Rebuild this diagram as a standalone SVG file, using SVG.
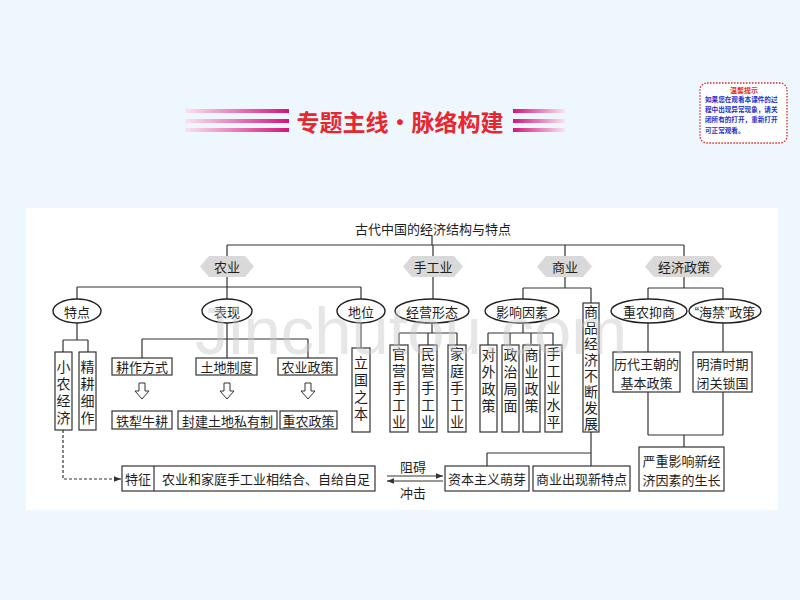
<svg xmlns="http://www.w3.org/2000/svg" width="800" height="600" viewBox="0 0 800 600">
<style>
text{font-family:"Noto Sans CJK SC","Liberation Sans",sans-serif;fill:#1e1e1e;}
.t{font-size:13px;text-anchor:middle;dominant-baseline:central;}
.vt{font-size:14px;writing-mode:vertical-rl;letter-spacing:3px;}
.ln{stroke:#333;stroke-width:1.2;fill:none;}
.bx{stroke:#333;stroke-width:1.2;fill:#fff;}
.hx{fill:#d9d9d9;stroke:none;}
.el{stroke:#222;stroke-width:1.4;fill:#fff;}
.ha{stroke:#333;stroke-width:1;fill:#fff;}
.tip{font-size:6.6px;fill:#2430c8;font-weight:bold;}
</style>
<defs>
<linearGradient id="gl" x1="0" x2="1" y1="0" y2="0"><stop offset="0" stop-color="#fbe3ef"/><stop offset="1" stop-color="#d4137f"/></linearGradient>
<linearGradient id="gr" x1="0" x2="1" y1="0" y2="0"><stop offset="0" stop-color="#d4137f"/><stop offset="1" stop-color="#fbe3ef"/></linearGradient>
<marker id="ar" viewBox="0 0 10 10" refX="10" refY="5" markerWidth="7" markerHeight="7" orient="auto-start-reverse" markerUnits="userSpaceOnUse"><path d="M0,1 L10,5 L0,9 Z" fill="#333"/></marker>
</defs>
<rect width="800" height="600" fill="#eef6fe"/>
<g id="header">
<rect x="185" y="109" width="104" height="4" fill="url(#gl)"/>
<rect x="185" y="119" width="104" height="4" fill="url(#gl)"/>
<rect x="185" y="128" width="104" height="4" fill="url(#gl)"/>
<rect x="513" y="109" width="52" height="4" fill="url(#gr)"/>
<rect x="513" y="119" width="52" height="4" fill="url(#gr)"/>
<rect x="513" y="128" width="52" height="4" fill="url(#gr)"/>
<text x="400" y="121" style="font-size:23px;font-weight:bold;fill:#e8262d;text-anchor:middle;dominant-baseline:central">专题主线·脉络构建</text>
</g>
<g id="tipbox">
<rect x="700" y="83" width="87" height="60" rx="7" fill="#fff" stroke="#d42a2a" stroke-width="1.3" stroke-dasharray="1.5 1.5"/>
<text x="744" y="90" style="font-size:7px;fill:#e8262d;font-weight:bold;text-anchor:middle;dominant-baseline:central">温馨提示</text>
<text class="tip" x="705" y="102">如果您在观看本课件的过</text>
<text class="tip" x="705" y="112">程中出现异常现象，请关</text>
<text class="tip" x="705" y="122">闭所有的打开，重新打开</text>
<text class="tip" x="705" y="133">可正常观看。</text>
</g>
<rect x="26" y="208" width="752" height="302" fill="#fff"/>
<g id="connectors">
<path class="ln" d="M432,236V245 M227,245H684 M227,245V256 M433,245V256 M565,245V256 M684,245V256"/>
<path class="ln" d="M227,277V287 M77,287H361 M77,287V299 M227,287V299 M361,287V299"/>
<path class="ln" d="M433,277V299"/>
<path class="ln" d="M565,277V288 M523,288H591 M523,288V299 M591,288V303"/>
<path class="ln" d="M684,277V288 M648,288H723 M648,288V299 M723,288V299"/>
<path class="ln" d="M77,323V340 M63,340H88 M63,340V352 M88,340V352"/>
<path class="ln" d="M227,323V339 M142,339H308 M142,339V358 M227,339V358 M308,339V358"/>
<path class="ln" d="M361,323V348"/>
<path class="ln" d="M432,323V333 M399,333H457 M399,333V345 M428,333V345 M457,333V345"/>
<path class="ln" d="M523,323V333 M488,333H553 M488,333V345 M510,333V345 M531,333V345 M553,333V345"/>
<path class="ln" d="M648,323V352 M723,323V352"/>
<path class="ln" d="M648,392V435 M723,392V435 M648,435H723 M684,435V447"/>
<path class="ln" d="M591,432V466 M487,453H591 M487,453V466"/>
<path class="ln" stroke-dasharray="3 2" d="M63,430V479H121" marker-end="url(#ar)"/>
<path class="ln" d="M387,476H443" marker-end="url(#ar)"/>
<path class="ln" d="M443,481H387" marker-end="url(#ar)"/>
<polygon class="ha" points="139,383 145,383 145,391 149,391 142,399 135,391 139,391"/>
<polygon class="ha" points="224,383 230,383 230,391 234,391 227,399 220,391 224,391"/>
<polygon class="ha" points="305,383 311,383 311,391 315,391 308,399 301,391 305,391"/>
</g>
<text class="t" x="433" y="228">古代中国的经济结构与特点</text>
<text class="t" x="413" y="466">阻碍</text>
<text class="t" x="413" y="492">冲击</text>
<g id="n-nongye"><polygon class="hx" points="200,266.5 209,256 245,256 254,266.5 245,277 209,277"/><text class="t" x="227" y="266.5">农业</text></g>
<g id="n-shougongye"><polygon class="hx" points="403,266.5 412,256 454,256 463,266.5 454,277 412,277"/><text class="t" x="433" y="266.5">手工业</text></g>
<g id="n-shangye"><polygon class="hx" points="537,266.5 546,256 583,256 592,266.5 583,277 546,277"/><text class="t" x="565" y="266.5">商业</text></g>
<g id="n-zhengce"><polygon class="hx" points="645,266.5 654,256 713,256 722,266.5 713,277 654,277"/><text class="t" x="684" y="266.5">经济政策</text></g>
<g id="n-tedian"><ellipse class="el" cx="77" cy="311" rx="24" ry="12"/><text class="t" x="77" y="311">特点</text></g>
<g id="n-biaoxian"><ellipse class="el" cx="227" cy="311" rx="25" ry="12"/><text class="t" x="227" y="311">表现</text></g>
<g id="n-diwei"><ellipse class="el" cx="361" cy="311" rx="24" ry="12"/><text class="t" x="361" y="311">地位</text></g>
<g id="n-jingying"><ellipse class="el" cx="432" cy="311" rx="37" ry="12"/><text class="t" x="432" y="311">经营形态</text></g>
<g id="n-yingxiang"><ellipse class="el" cx="522" cy="311" rx="37" ry="12"/><text class="t" x="522" y="311">影响因素</text></g>
<g id="n-zhongnong"><ellipse class="el" cx="649" cy="311" rx="38" ry="12"/><text class="t" x="649" y="311">重农抑商</text></g>
<g id="n-haijin"><ellipse class="el" cx="725" cy="311" rx="36" ry="12"/><text class="t" x="725" y="311"><tspan font-family="Liberation Sans">“</tspan>海禁<tspan font-family="Liberation Sans">”</tspan>政策</text></g>
<g id="n-xiaonong"><rect class="bx" x="55" y="352" width="17" height="78"/><text class="vt" x="63.5" y="360">小农经济</text></g>
<g id="n-jinggeng"><rect class="bx" x="79" y="352" width="17" height="78"/><text class="vt" x="87.5" y="360">精耕细作</text></g>
<g id="n-liguo"><rect class="bx" x="352" y="348" width="18" height="84"/><text class="vt" x="361" y="356">立国之本</text></g>
<g id="n-guanying"><rect class="bx" x="390" y="345" width="18" height="87"/><text class="vt" x="399" y="347">官营手工业</text></g>
<g id="n-minying"><rect class="bx" x="419" y="345" width="18" height="87"/><text class="vt" x="428" y="347">民营手工业</text></g>
<g id="n-jiating"><rect class="bx" x="448" y="345" width="18" height="87"/><text class="vt" x="457" y="347">家庭手工业</text></g>
<g id="n-duiwai"><rect class="bx" x="480" y="345" width="17" height="87"/><text class="vt" x="488.5" y="348">对外政策</text></g>
<g id="n-zhengzhi"><rect class="bx" x="502" y="345" width="17" height="87"/><text class="vt" x="510.5" y="348">政治局面</text></g>
<g id="n-shangzc"><rect class="bx" x="523" y="345" width="17" height="87"/><text class="vt" x="531.5" y="348">商业政策</text></g>
<g id="n-shougongsp"><rect class="bx" x="545" y="345" width="17" height="87"/><text class="vt" x="553.5" y="347">手工业水平</text></g>
<g id="n-shangpin"><rect class="bx" x="583" y="303" width="16" height="129"/><text class="vt" x="591" y="305" style="letter-spacing:2px">商品经济不断发展</text></g>
<g id="n-gengzuo"><rect class="bx" x="112" y="358" width="60" height="17"/><text class="t" x="142" y="366.5">耕作方式</text></g>
<g id="n-tudi"><rect class="bx" x="196" y="358" width="61" height="17"/><text class="t" x="226.5" y="366.5">土地制度</text></g>
<g id="n-nongzc"><rect class="bx" x="278" y="358" width="59" height="17"/><text class="t" x="307.5" y="366.5">农业政策</text></g>
<g id="n-tieli"><rect class="bx" x="112" y="411" width="60" height="18"/><text class="t" x="142" y="420">铁犁牛耕</text></g>
<g id="n-fengjian"><rect class="bx" x="178" y="411" width="99" height="18"/><text class="t" x="227.5" y="420">封建土地私有制</text></g>
<g id="n-zhongnongzc"><rect class="bx" x="280" y="411" width="57" height="18"/><text class="t" x="308.5" y="420">重农政策</text></g>
<g id="n-lidai"><rect class="bx" x="613" y="352" width="67" height="40"/><text class="t" x="646.5" y="363">历代王朝的</text><text class="t" x="646.5" y="382">基本政策</text></g>
<g id="n-mingqing"><rect class="bx" x="693" y="352" width="59" height="40"/><text class="t" x="722.5" y="363">明清时期</text><text class="t" x="722.5" y="382">闭关锁国</text></g>
<g id="n-yanzhong"><rect class="bx" x="639" y="447" width="85" height="44"/><text class="t" x="681.5" y="460">严重影响新经</text><text class="t" x="681.5" y="479">济因素的生长</text></g>
<g id="n-tezheng"><rect class="bx" x="122" y="466" width="253" height="25"/><line class="ln" x1="154" y1="466" x2="154" y2="491"/><text class="t" x="138" y="478.5">特征</text><text class="t" x="266" y="478.5">农业和家庭手工业相结合、自给自足</text></g>
<g id="n-ziben"><rect class="bx" x="445" y="466" width="84" height="25"/><text class="t" x="487" y="478.5">资本主义萌芽</text></g>
<g id="n-xintedian"><rect class="bx" x="533" y="466" width="97" height="25"/><text class="t" x="581.5" y="478.5">商业出现新特点</text></g>
<text x="195" y="354" style="font-family:'Liberation Sans',sans-serif;font-size:67px;fill:#c8c8c8;opacity:0.45">Jinchutou.com</text>
</svg>
